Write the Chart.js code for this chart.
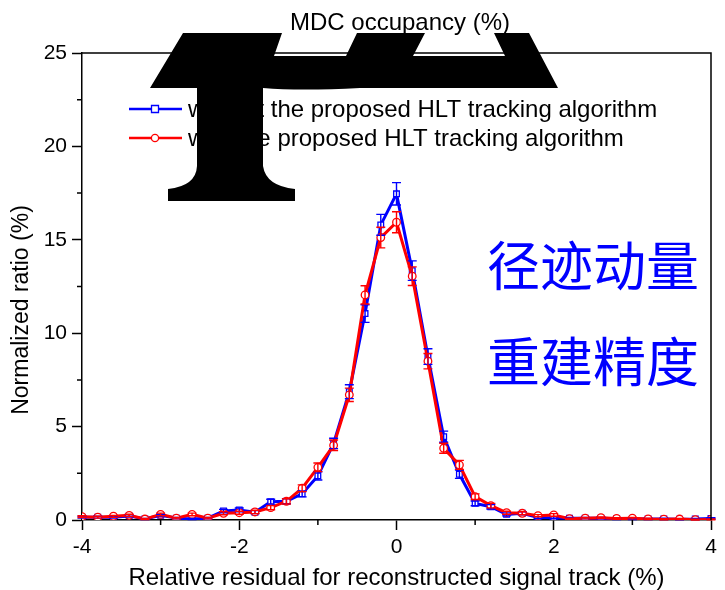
<!DOCTYPE html>
<html>
<head>
<meta charset="utf-8">
<script src="https://cdn.jsdelivr.net/npm/chart.js@4/dist/chart.umd.min.js"></script>
<style>
  html, body { margin: 0; padding: 0; background: #fff; }
</style>
</head>
<body>
<canvas id="chart" width="725" height="590"></canvas>
<script>
// relative residual (%) bin centres
const residual = [-4.0, -3.8, -3.6, -3.4, -3.2, -3.0, -2.8, -2.6, -2.4, -2.2, -2.0, -1.8, -1.6, -1.4, -1.2, -1.0, -0.8, -0.6, -0.4, -0.2,
  0.0, 0.2, 0.4, 0.6, 0.8, 1.0, 1.2, 1.4, 1.6, 1.8, 2.0, 2.2, 2.4, 2.6, 2.8, 3.0, 3.2, 3.4, 3.6, 3.8, 4.0];

// normalized ratio (%) without / with the HLT tracking algorithm
const withoutHlt = [0.15, 0.15, 0.15, 0.22, 0.05, 0.25, 0.10, 0.05, 0.10, 0.48, 0.54, 0.42, 0.98, 1.00, 1.40, 2.36, 4.10, 6.87, 11.05, 15.80,
  17.46, 13.35, 8.75, 4.46, 2.45, 0.89, 0.71, 0.30, 0.36, 0.13, 0.12, 0.09, 0.10, 0.09, 0.07, 0.05, 0.05, 0.06, 0.04, 0.05, 0.08];
const withoutHltErr = [0.05, 0.05, 0.05, 0.06, 0.03, 0.06, 0.04, 0.03, 0.04, 0.09, 0.10, 0.08, 0.13, 0.13, 0.16, 0.22, 0.28, 0.37, 0.47, 0.56,
  0.60, 0.52, 0.42, 0.30, 0.22, 0.13, 0.12, 0.08, 0.08, 0.05, 0.05, 0.04, 0.04, 0.04, 0.04, 0.03, 0.03, 0.03, 0.03, 0.03, 0.04];

const withHlt = [0.18, 0.15, 0.20, 0.25, 0.05, 0.30, 0.10, 0.30, 0.10, 0.36, 0.39, 0.43, 0.66, 1.00, 1.70, 2.82, 4.00, 6.70, 12.05, 15.12,
  15.94, 13.05, 8.50, 3.84, 2.95, 1.25, 0.77, 0.39, 0.36, 0.23, 0.27, 0.07, 0.10, 0.12, 0.08, 0.10, 0.06, 0.04, 0.05, 0.02, 0.03];
const withHltErr = [0.05, 0.05, 0.05, 0.06, 0.03, 0.07, 0.04, 0.07, 0.04, 0.08, 0.08, 0.09, 0.11, 0.14, 0.18, 0.23, 0.28, 0.36, 0.49, 0.55,
  0.56, 0.50, 0.41, 0.27, 0.24, 0.15, 0.12, 0.08, 0.08, 0.06, 0.07, 0.03, 0.04, 0.04, 0.04, 0.04, 0.03, 0.03, 0.03, 0.02, 0.02];

const seriesLabels = ["without the proposed HLT tracking algorithm", "with the proposed HLT tracking algorithm"];
const xMinorTicks = [-3, -1, 1, 3];
const yMinorTicks = [2.5, 7.5, 12.5, 17.5, 22.5];

const FONT = 'Arial, "Liberation Sans", sans-serif';
const BLUE = "#0000ff";
const RED = "#ff0000";

Chart.defaults.font.family = FONT;
Chart.defaults.color = "#000";

function toPoints(vals) {
  return residual.map((x, i) => ({ x: x, y: vals[i] }));
}

const errorBars = {
  id: "errorBars",
  afterDatasetsDraw(chart) {
    const ctx = chart.ctx;
    const yScale = chart.scales.y;
    const errs = [withoutHltErr, withHltErr];
    [0, 1].forEach((di) => {
      const meta = chart.getDatasetMeta(di);
      const vals = chart.data.datasets[di].data;
      ctx.save();
      ctx.strokeStyle = chart.data.datasets[di].borderColor;
      ctx.lineWidth = 1.4;
      meta.data.forEach((pt, i) => {
        const v = vals[i].y;
        const top = yScale.getPixelForValue(v + errs[di][i]);
        const bot = yScale.getPixelForValue(Math.max(0, v - errs[di][i]));
        ctx.beginPath();
        ctx.moveTo(pt.x, top); ctx.lineTo(pt.x, bot);
        ctx.moveTo(pt.x - 4.5, top); ctx.lineTo(pt.x + 4.5, top);
        ctx.moveTo(pt.x - 4.5, bot); ctx.lineTo(pt.x + 4.5, bot);
        ctx.stroke();
      });
      ctx.restore();
    });
  }
};

const decorations = {
  id: "decorations",
  beforeDraw(chart) {
    const ctx = chart.ctx;
    ctx.save();
    ctx.fillStyle = "#fff";
    ctx.fillRect(0, 0, chart.width, chart.height);
    ctx.restore();
  },
  afterDraw(chart) {
    const ctx = chart.ctx;
    const a = chart.chartArea;
    const xs = chart.scales.x, ys = chart.scales.y;
    ctx.save();

    // frame top + right
    ctx.strokeStyle = "#000";
    ctx.lineWidth = 1.5;
    ctx.beginPath();
    ctx.moveTo(a.left, a.top); ctx.lineTo(a.right, a.top); ctx.lineTo(a.right, a.bottom);
    ctx.stroke();

    // minor ticks
    ctx.beginPath();
    xMinorTicks.forEach((v) => {
      const px = xs.getPixelForValue(v);
      ctx.moveTo(px, a.bottom); ctx.lineTo(px, a.bottom + 5);
    });
    yMinorTicks.forEach((v) => {
      const py = ys.getPixelForValue(v);
      ctx.moveTo(a.left, py); ctx.lineTo(a.left - 5, py);
    });
    ctx.stroke();

    // top title
    ctx.fillStyle = "#000";
    ctx.font = "24px " + FONT;
    ctx.textAlign = "center";
    ctx.textBaseline = "middle";
    ctx.fillText("MDC occupancy (%)", 400, 23);

    // y title
    ctx.save();
    ctx.font = "23px " + FONT;
    ctx.translate(22, 310);
    ctx.rotate(-Math.PI / 2);
    ctx.fillText("Normalized ratio (%)", 0, 0);
    ctx.restore();

    // legend
    const rows = [
      { y: 109, color: BLUE, style: "rect", text: seriesLabels[0] },
      { y: 138, color: RED, style: "circle", text: seriesLabels[1] }
    ];
    rows.forEach((r) => {
      ctx.strokeStyle = r.color;
      ctx.lineWidth = 2.5;
      ctx.beginPath();
      ctx.moveTo(129, r.y); ctx.lineTo(182, r.y);
      ctx.stroke();
      ctx.fillStyle = "#fff";
      ctx.lineWidth = 1.3;
      ctx.beginPath();
      if (r.style === "rect") ctx.rect(151.5, r.y - 3.5, 7, 7);
      else ctx.arc(155, r.y, 3.6, 0, Math.PI * 2);
      ctx.fill(); ctx.stroke();
      ctx.fillStyle = "#000";
      ctx.font = "24px " + FONT;
      ctx.textAlign = "left";
      ctx.fillText(r.text, 188, r.y + 1);
    });

    // chinese annotation
    ctx.fillStyle = BLUE;
    ctx.font = '53px "Noto Sans CJK SC"';
    ctx.textAlign = "left";
    ctx.fillText("径迹动量", 487, 266);
    ctx.fillText("重建精度", 487, 362);

    // black blot over the legend
    ctx.fillStyle = "#000";
    ctx.beginPath();
    ctx.moveTo(183, 33);
    ctx.lineTo(282, 33);
    ctx.lineTo(274, 56);
    ctx.lineTo(346, 56);
    ctx.lineTo(357, 33);
    ctx.lineTo(425, 33);
    ctx.lineTo(413, 56);
    ctx.lineTo(505, 56);
    ctx.lineTo(494, 33);
    ctx.lineTo(529, 33);
    ctx.lineTo(558, 88);
    ctx.lineTo(360, 88);
    ctx.quadraticCurveTo(300, 91, 263, 88);
    ctx.lineTo(263, 166);
    ctx.quadraticCurveTo(266, 186, 295, 189);
    ctx.lineTo(295, 201);
    ctx.lineTo(168, 201);
    ctx.lineTo(168, 189);
    ctx.quadraticCurveTo(196, 186, 197, 166);
    ctx.lineTo(197, 88);
    ctx.lineTo(150, 88);
    ctx.closePath();
    ctx.fill();

    ctx.restore();
  }
};

new Chart(document.getElementById("chart"), {
  type: "line",
  data: {
    datasets: [
      {
        label: seriesLabels[0],
        data: toPoints(withoutHlt),
        borderColor: BLUE,
        borderWidth: 3,
        pointStyle: "rect",
        pointRadius: 4,
        pointBorderWidth: 1.3,
        pointBackgroundColor: "#fff",
        pointBorderColor: BLUE,
        order: 2
      },
      {
        label: seriesLabels[1],
        data: toPoints(withHlt),
        borderColor: RED,
        borderWidth: 3,
        pointStyle: "circle",
        pointRadius: 3.8,
        pointBorderWidth: 1.3,
        pointBackgroundColor: "#fff",
        pointBorderColor: RED,
        order: 1
      }
    ]
  },
  options: {
    responsive: false,
    animation: false,
    devicePixelRatio: 1,
    layout: { padding: { top: 53, right: 14, left: 0, bottom: 0 } },
    plugins: {
      legend: { display: false },
      tooltip: { enabled: false },
      title: { display: false }
    },
    scales: {
      x: {
        type: "linear",
        min: -4,
        max: 4,
        ticks: { stepSize: 2, font: { size: 21 }, color: "#000", padding: 5, maxRotation: 0 },
        grid: { drawOnChartArea: false, tickLength: 10, tickWidth: 1.5, tickColor: "#000" },
        border: { color: "#000", width: 1.5 },
        title: {
          display: true,
          text: "Relative residual for reconstructed signal track (%)",
          font: { size: 24, lineHeight: 1 },
          color: "#000",
          padding: { top: 0, bottom: 0 }
        },
        afterFit: (s) => { s.height = 70; }
      },
      y: {
        min: 0,
        max: 25,
        ticks: { stepSize: 5, font: { size: 21 }, color: "#000", padding: 5 },
        grid: { drawOnChartArea: false, tickLength: 10, tickWidth: 1.5, tickColor: "#000" },
        border: { color: "#000", width: 1.5 },
        afterFit: (s) => { s.width = 82; }
      }
    }
  },
  plugins: [errorBars, decorations]
});
</script>
</body>
</html>
